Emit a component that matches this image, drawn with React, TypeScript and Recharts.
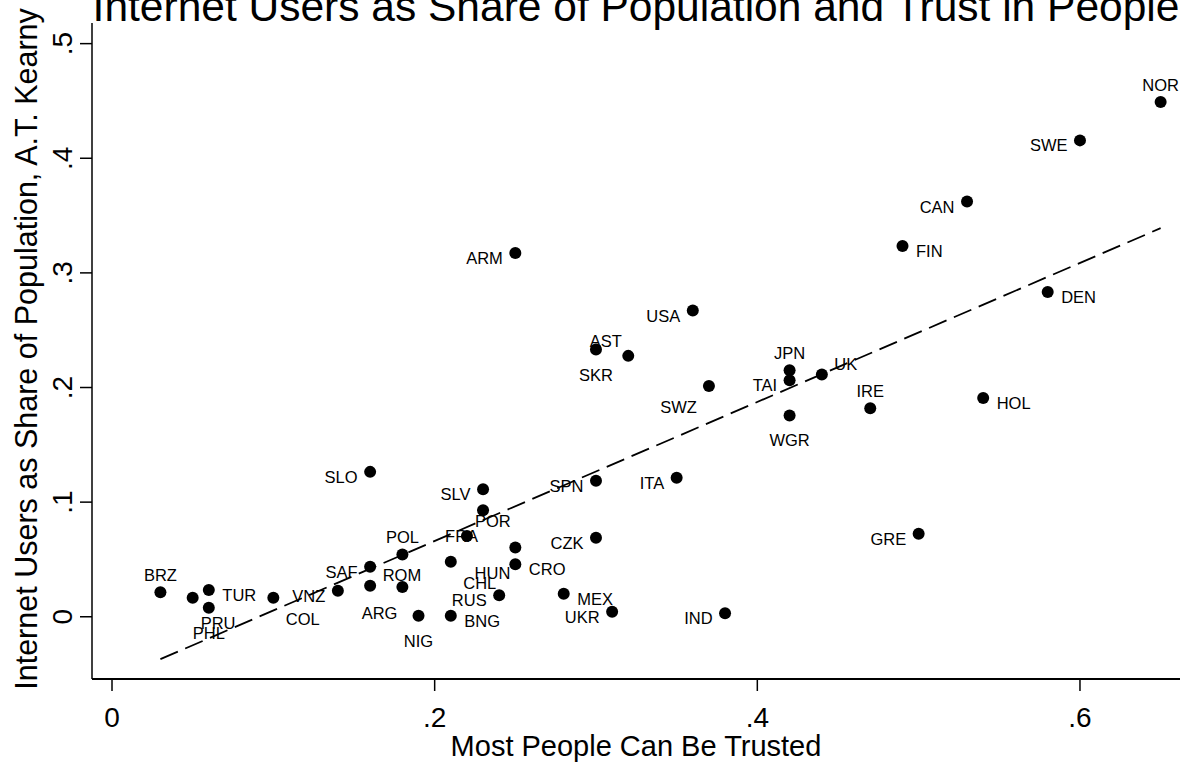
import React from "react";
import { ScatterChart, Scatter, XAxis, YAxis } from "recharts";

const countries = [
  "NOR", "SWE", "CAN", "FIN", "DEN", "HOL", "IRE", "UK", "JPN", "TAI", "WGR",
  "GRE", "SWZ", "ARM", "USA", "SKR", "AST", "SLO", "SLV", "FRA", "POR", "SPN",
  "ITA", "POL", "CHL", "HUN", "CRO", "CZK", "SAF", "ROM", "ARG", "NIG", "BNG",
  "RUS", "MEX", "UKR", "IND", "BRZ", "PRU", "TUR", "PHL", "COL", "VNZ",
];
const trust = [
  0.65, 0.60, 0.53, 0.49, 0.58, 0.54, 0.47, 0.44, 0.42, 0.42, 0.42,
  0.50, 0.37, 0.25, 0.36, 0.30, 0.32, 0.16, 0.23, 0.23, 0.22, 0.30,
  0.35, 0.18, 0.21, 0.25, 0.25, 0.30, 0.16, 0.16, 0.18, 0.19, 0.21,
  0.24, 0.28, 0.31, 0.38, 0.03, 0.05, 0.06, 0.06, 0.10, 0.14,
];
const internet = [
  0.449, 0.4156, 0.3622, 0.3235, 0.2833, 0.1909, 0.182, 0.2113, 0.2151, 0.2064, 0.1756,
  0.0724, 0.2014, 0.3174, 0.2671, 0.2331, 0.2276, 0.1264, 0.1113, 0.093, 0.0704, 0.1186,
  0.1212, 0.0544, 0.048, 0.0605, 0.0459, 0.0689, 0.0436, 0.027, 0.0259, 0.0009, 0.0009,
  0.0187, 0.0201, 0.0044, 0.003, 0.0213, 0.0166, 0.0233, 0.0078, 0.0166, 0.0227,
];
// marker label clock position (Stata-style mlabvposition)
const labelClock = [
  12, 9, 9, 3, 3, 3, 12, 2, 12, 9, 6,
  9, 8, 9, 9, 6, 11, 9, 9, 7, 1, 9,
  9, 12, 4, 7, 3, 9, 9, 2, 7, 6, 3,
  9, 3, 9, 9, 12, 5, 3, 6, 4, 9,
];

const fitTrust = [0.03, 0.65];
const fitInternet = [-0.037, 0.339];

const xTicks = [0, 0.2, 0.4, 0.6];
const yTicks = [0, 0.1, 0.2, 0.3, 0.4, 0.5];

const title = "Internet Users as Share of Population and Trust in People";
const xTitle = "Most People Can Be Trusted";
const yTitle = "Internet Users as Share of Population, A.T. Kearny";

const points = countries.map((name, i) => ({
  x: trust[i],
  y: internet[i],
  name,
  clock: labelClock[i],
}));
const fitPoints = fitTrust.map((x, i) => ({ x, y: fitInternet[i] }));

const FONT = "'Liberation Sans', Arial, Helvetica, sans-serif";

const clockOffsets: Record<number, { dx: number; dy: number; anchor: string }> = {
  12: { dx: 0, dy: -11, anchor: "middle" },
  1: { dx: 8, dy: -9, anchor: "start" },
  2: { dx: 12.5, dy: -5, anchor: "start" },
  3: { dx: 13.5, dy: 11, anchor: "start" },
  4: { dx: 12.5, dy: 27, anchor: "start" },
  5: { dx: 8, dy: 31, anchor: "start" },
  6: { dx: 0, dy: 31, anchor: "middle" },
  7: { dx: -5, dy: 32, anchor: "end" },
  8: { dx: -12, dy: 27, anchor: "end" },
  9: { dx: -12.5, dy: 11, anchor: "end" },
  10: { dx: -12.5, dy: -5, anchor: "end" },
  11: { dx: -6.5, dy: -9, anchor: "end" },
};

const fmt = (v: number) => {
  if (v === 0) return "0";
  return String(Math.round(v * 10) / 10).replace(/^0/, "");
};

const PointShape = (props: any) => {
  const { cx, cy, payload } = props;
  if (cx == null || cy == null) return <g />;
  const o = clockOffsets[payload.clock] || clockOffsets[3];
  return (
    <g>
      <circle cx={cx} cy={cy} r={6} fill="#000" />
      <text
        x={cx + o.dx}
        y={cy + o.dy}
        textAnchor={o.anchor as any}
        fontSize={16.5}
        fontFamily={FONT}
        fill="#000"
      >
        {payload.name}
      </text>
    </g>
  );
};

const XTick = (props: any) => {
  const { x, y, payload } = props;
  return (
    <text x={x} y={y + 34} textAnchor="middle" fontSize={28} fontFamily={FONT} fill="#000">
      {fmt(payload.value)}
    </text>
  );
};

const YTick = (props: any) => {
  const { x, y, payload } = props;
  const bx = x - 6;
  return (
    <text
      x={bx}
      y={y}
      transform={`rotate(-90, ${bx}, ${y})`}
      textAnchor="middle"
      fontSize={28}
      fontFamily={FONT}
      fill="#000"
    >
      {fmt(payload.value)}
    </text>
  );
};

export default function App() {
  return (
    <div style={{ position: "absolute", left: 0, top: 0, width: 1189, height: 767, background: "#fff" }}>
      <ScatterChart
        width={1189}
        height={767}
        margin={{ top: 23, right: 9, bottom: 0, left: 0 }}
        style={{ background: "#fff" }}
      >
        <XAxis
          type="number"
          dataKey="x"
          domain={[-0.0124, 0.662]}
          allowDataOverflow
          ticks={xTicks}
          interval={0}
          height={88}
          tickSize={12}
          tickMargin={2}
          axisLine={{ stroke: "#000", strokeWidth: 1.8 }}
          tickLine={{ stroke: "#000", strokeWidth: 1.5 }}
          tick={<XTick />}
        />
        <YAxis
          type="number"
          dataKey="y"
          domain={[-0.0543, 0.518]}
          allowDataOverflow
          ticks={yTicks}
          interval={0}
          width={92}
          tickSize={12}
          tickMargin={2}
          axisLine={{ stroke: "#000", strokeWidth: 1.5 }}
          tickLine={{ stroke: "#000", strokeWidth: 1.5 }}
          tick={<YTick />}
        />
        <Scatter
          data={fitPoints}
          isAnimationActive={false}
          line={{ stroke: "#000", strokeWidth: 1.8, strokeDasharray: "19 8" }}
          shape={() => <g />}
        />
        <Scatter data={points} isAnimationActive={false} shape={<PointShape />} />
        <text x={636} y={21} textAnchor="middle" fontSize={42.5} fontFamily={FONT} fill="#000">
          {title}
        </text>
        <text x={636} y={756} textAnchor="middle" fontSize={29} fontFamily={FONT} fill="#000">
          {xTitle}
        </text>
        <text
          x={37}
          y={349}
          transform="rotate(-90, 37, 349)"
          textAnchor="middle"
          fontSize={30.5}
          fontFamily={FONT}
          fill="#000"
        >
          {yTitle}
        </text>
      </ScatterChart>
    </div>
  );
}
